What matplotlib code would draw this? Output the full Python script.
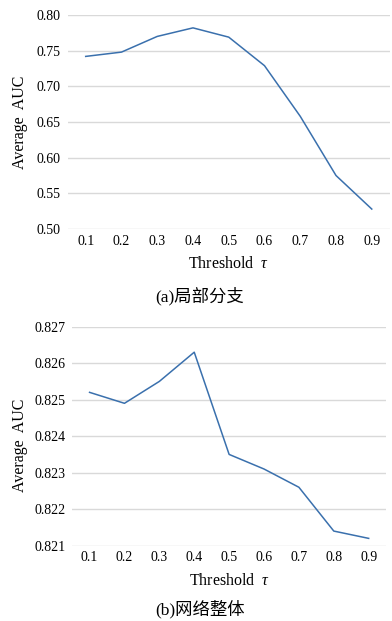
import matplotlib
matplotlib.use("Agg")
import matplotlib.pyplot as plt

plt.rcParams['font.family'] = ['Liberation Serif', 'Noto Sans CJK SC']
plt.rcParams['mathtext.fontset'] = 'custom'
plt.rcParams['mathtext.it'] = 'Liberation Serif:italic'
plt.rcParams['mathtext.rm'] = 'Liberation Serif'

thresholds = ["0.1", "0.2", "0.3", "0.4", "0.5", "0.6", "0.7", "0.8", "0.9"]
auc_local = [0.742, 0.748, 0.770, 0.782, 0.769, 0.729, 0.658, 0.575, 0.528]
auc_whole = [0.8252, 0.8249, 0.8255, 0.8263, 0.8235, 0.8231, 0.8226, 0.8214, 0.8212]
yticks_local = [0.50, 0.55, 0.60, 0.65, 0.70, 0.75, 0.80]
yticks_whole = [0.821, 0.822, 0.823, 0.824, 0.825, 0.826, 0.827]

line_color = "#3a70ad"
grid_color = "#d9d9d9"

fig = plt.figure(figsize=(3.92, 6.21), dpi=100)
ax1 = fig.add_axes([0.173, 0.6312, 0.821, 0.3446])
ax2 = fig.add_axes([0.184, 0.1213, 0.801, 0.3527])


def style(ax, vals, yticks, fmt, ylab_x, ylab_y, caption, cap_y):
    x = list(range(len(thresholds)))
    ax.plot(x, vals, color=line_color, lw=1.1)
    ax.set_xlim(-0.5, len(thresholds) - 0.5)
    ax.set_ylim(yticks[0], yticks[-1])
    ax.set_yticks(yticks)
    ax.set_yticklabels([fmt.format(v) for v in yticks], fontsize=10)
    ax.set_xticks(x)
    ax.set_xticklabels(thresholds, fontsize=10)
    ax.tick_params(length=0, pad=5)
    ax.tick_params(axis='x', pad=4)
    for s in ax.spines.values():
        s.set_visible(False)
    ax.grid(axis='y', color=grid_color, lw=1.0)
    ax.set_axisbelow(True)
    ax.set_xlabel(r"Threshold  $\tau$", fontsize=11.5, labelpad=6)
    ax.set_ylabel("Average  AUC", fontsize=11.5)
    ax.yaxis.set_label_coords(ylab_x, ylab_y)
    fig.text(0.51, cap_y, caption, ha='center', va='center', fontsize=12.5)


style(ax1, auc_local, yticks_local, "{:.2f}", -0.124, 0.5, "(a)局部分支", 1 - 296 / 621)
style(ax2, auc_whole, yticks_whole, "{:.3f}", -0.14, 0.46, "(b)网络整体", 1 - 609 / 621)

fig.savefig("out.png", dpi=100)
